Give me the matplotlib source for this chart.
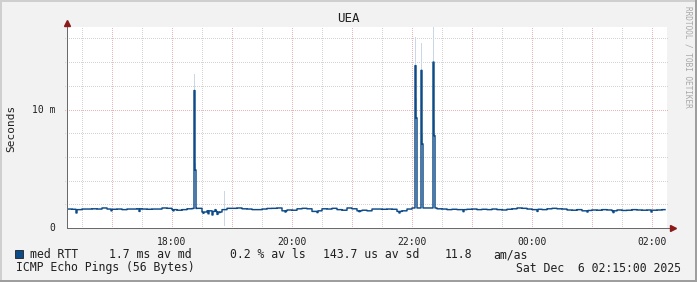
import numpy as np
import matplotlib
matplotlib.use("Agg")
from matplotlib import pyplot as plt
from matplotlib.patches import Rectangle

W, H = 697, 282

# median RTT (ms), one value per 5 minutes starting Fri 16:15
base_rtt = [
    1.60, 1.58, 1.55, 1.60, 1.60, 1.62, 1.60, 1.69, 1.60, 1.58,
    1.60, 1.55, 1.60, 1.60, 1.62, 1.60, 1.58, 1.60, 1.60, 1.69,
    1.66, 1.55, 1.50, 1.55, 1.62, 1.65, 1.66, 1.35, 1.45, 1.40,
    1.35, 1.55, 1.66, 1.66, 1.69, 1.62, 1.60, 1.55, 1.55, 1.60,
    1.65, 1.66, 1.69, 1.45, 1.52, 1.50, 1.62, 1.66, 1.62, 1.40,
    1.45, 1.62, 1.60, 1.66, 1.55, 1.50, 1.69, 1.62, 1.45, 1.50,
    1.45, 1.60, 1.60, 1.58, 1.60, 1.58, 1.40, 1.45, 1.60, 1.69,
    1.69, 1.69, 1.69, 1.69, 1.62, 1.60, 1.55, 1.58, 1.55, 1.55,
    1.58, 1.60, 1.55, 1.58, 1.55, 1.60, 1.55, 1.52, 1.58, 1.62,
    1.69, 1.66, 1.60, 1.55, 1.58, 1.55, 1.62, 1.66, 1.62, 1.60,
    1.52, 1.50, 1.55, 1.45, 1.48, 1.52, 1.50, 1.55, 1.52, 1.45,
    1.52, 1.48, 1.50, 1.55, 1.52, 1.50, 1.52, 1.50, 1.52, 1.55,
]
# single-minute dips and spikes (minute offset, ms)
dip_min = [9, 44, 72, 106, 136, 141, 145, 148, 150, 152, 218, 250, 292, 332, 396, 470, 520, 546, 584]
dip_val = [1.27, 1.45, 1.40, 1.45, 1.25, 1.20, 1.10, 1.55, 1.15, 1.30, 1.35, 1.30, 1.38, 1.27, 1.38, 1.40, 1.35, 1.30, 1.35]
spike_min = [127, 128, 348, 349, 354, 355, 366, 367]
spike_val = [11.6, 4.9, 13.7, 9.3, 13.3, 7.1, 14.0, 7.8]
# smoke (ping spread) per minute
smoke_min = [127, 128, 157, 348, 349, 354, 355, 366, 367]
smoke_lo = [11.6, 4.9, 0.2, 13.7, 9.3, 13.3, 7.1, 14.0, 7.8]
smoke_hi = [13.0, 5.5, 3.1, 16.1, 11.0, 15.6, 7.9, 17.2, 9.1]

x_ticks = [105, 225, 345, 465, 585]
x_labels = ["18:00", "20:00", "22:00", "00:00", "02:00"]
data_end = 598

rtt = np.repeat(np.array(base_rtt), 5)
rtt[dip_min] = dip_val
rtt[spike_min] = spike_val
rtt[data_end:] = np.nan
minutes = np.arange(len(rtt))

ymax = 201 / 11.85
mono = "DejaVu Sans Mono"

fig = plt.figure(figsize=(W / 100, H / 100), dpi=100)
fig.patch.set_facecolor("#f2f2f2")
ax = fig.add_axes([67 / W, 54 / H, 600 / W, 201 / H])
ax.set_facecolor("white")
ax.set_xlim(0, 600)
ax.set_ylim(0, ymax)
for s in ax.spines.values():
    s.set_visible(False)
ax.set_xticks([])
ax.set_yticks([])

dot = (0, (1, 1.6))
lw = 0.72
gkw = dict(lw=lw, ls=dot, zorder=1, antialiased=False)
# grid
for m in range(15, 600, 60):
    ax.axvline(m, color="#d4d4d4", **gkw)
for m in range(45, 600, 60):
    ax.axvline(m, color="#ebb4b4", **gkw)
for v in [2, 4, 6, 8, 12, 14, 16]:
    ax.plot([-2, 601], [v, v], color="#d4d4d4", clip_on=False, **gkw)
ax.plot([-2, 601], [10, 10], color="#ebb4b4", clip_on=False, **gkw)

# smoke
ax.bar(smoke_min, np.array(smoke_hi) - np.array(smoke_lo), bottom=smoke_lo,
       width=1, align="edge", color="#c9d7e8", zorder=2, clip_on=True)
# median
ax.step(minutes, rtt, where="post", color="#0c4a88", lw=1.05, zorder=3)

# axes with arrows
ax.plot([0, 604], [0, 0], color="#6a6a6a", lw=lw, clip_on=False, zorder=4)
ax.plot([0, 0], [0, ymax + 0.2], color="#6a6a6a", lw=lw, clip_on=False, zorder=4)
ax.plot([606], [0], marker=">", color="#8b1a1a", ms=4, clip_on=False, zorder=5)
ax.plot([0], [ymax + 0.35], marker="^", color="#8b1a1a", ms=4, clip_on=False, zorder=5)

# tick labels
for m, lab in zip(x_ticks, x_labels):
    ax.text(m, -0.75, lab, ha="center", va="top", family=mono, fontsize=7, color="#202020")
ax.text(-12, 10, "10 m", ha="right", va="center", family=mono, fontsize=7, color="#202020")
ax.text(-12, 0, "0", ha="right", va="center", family=mono, fontsize=7, color="#202020")


def ftext(x, y, s, **kw):
    fig.text(x / W, 1 - y / H, s, **kw)


ftext(348, 19, "UEA", ha="center", va="center", family=mono, fontsize=9, color="#202020")
ftext(11, 128, "Seconds", ha="center", va="center", rotation=90, family=mono,
      fontsize=8, color="#202020")
ftext(688, 6, "RRDTOOL / TOBI OETIKER", ha="center", va="top", rotation=270,
      family=mono, fontsize=5.6, color="#a8a8a8")

fig.patches.append(Rectangle((15 / W, 1 - 258 / H), 8 / W, 8 / H, transform=fig.transFigure,
                             facecolor="#0c4a88", edgecolor="#202020", lw=0.6))
leg = dict(va="center", family=mono, fontsize=8.3, color="#202020")
ftext(30, 255, "med RTT", ha="left", **leg)
ftext(109, 255, "1.7 ms av md", ha="left", **leg)
ftext(230, 255, "0.2 % av ls", ha="left", **leg)
ftext(323, 255, "143.7 us av sd", ha="left", **leg)
ftext(445, 255, "11.8", ha="left", **leg)
ftext(493, 255, "am/as", ha="left", **leg)
ftext(16, 268, "ICMP Echo Pings (56 Bytes)", ha="left", **leg)
ftext(681, 268, "Sat Dec  6 02:15:00 2025", ha="right", **leg)

# frame shading
fig.patches.append(Rectangle((0, 1 - 2 / H), 1, 2 / H, transform=fig.transFigure,
                             facecolor="#cfcfcf", edgecolor="none"))
fig.patches.append(Rectangle((0, 0), 2 / W, 1, transform=fig.transFigure,
                             facecolor="#cfcfcf", edgecolor="none"))
fig.patches.append(Rectangle((0, 0), 1, 2 / H, transform=fig.transFigure,
                             facecolor="#9e9e9e", edgecolor="none"))
fig.patches.append(Rectangle((1 - 2 / W, 0), 2 / W, 1, transform=fig.transFigure,
                             facecolor="#9e9e9e", edgecolor="none"))

fig.savefig("out.png", dpi=100, facecolor=fig.get_facecolor())
